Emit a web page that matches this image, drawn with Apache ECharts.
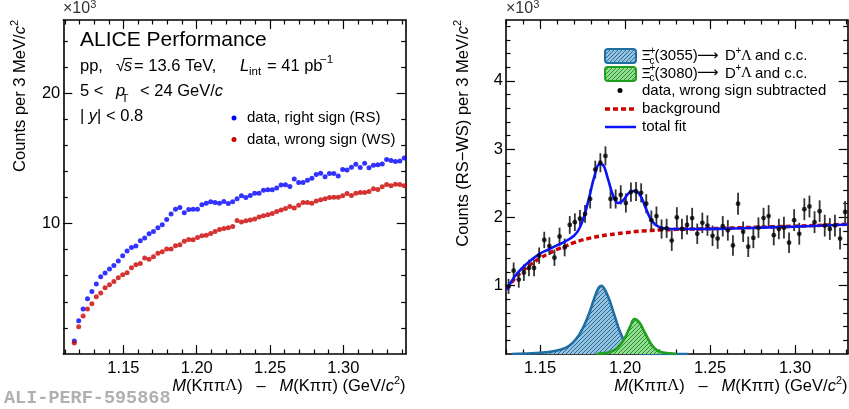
<!DOCTYPE html>
<html>
<head>
<meta charset="utf-8">
<script src="https://cdn.jsdelivr.net/npm/echarts@6/dist/echarts.min.js"></script>
<style>
  html, body { margin: 0; padding: 0; background: #fff; }
  #chart { width: 849px; height: 409px; }
</style>
</head>
<body>
<div id="chart"></div>
<script>
// ---- binning of the mass-difference axis (GeV/c^2), 3 MeV bins ----
const BIN_WIDTH = 0.003;
const FIRST_BIN_LEFT = 1.1165;
const FIRST_BIN_RIGHT = 1.1315;

// ---- left panel: candidates per bin (x10^3) ----
const rightSign = [
  1.00, 2.55, 3.44, 4.23, 4.80, 5.36, 5.92, 6.20, 6.51, 6.79,
  7.12, 7.53, 7.89, 8.17, 8.27, 8.68, 8.90, 9.21, 9.39, 9.67,
  9.90, 10.31, 10.73, 11.10, 11.23, 10.82, 11.08, 11.10, 11.10, 11.43,
  11.56, 11.66, 11.61, 11.56, 11.69, 11.53, 11.66, 11.89, 12.12, 11.99,
  12.15, 12.33, 12.33, 12.56, 12.58, 12.58, 12.73, 12.95, 12.97, 12.84,
  13.42, 13.14, 13.14, 13.32, 13.48, 13.76, 13.86, 13.58, 13.83, 13.83,
  13.65, 14.14, 14.11, 14.32, 14.55, 14.29, 14.62, 14.27, 14.47, 14.50,
  14.57, 14.91, 14.83, 14.76, 14.80, 15.03
];
const wrongSign = [
  0.84, 2.09, 2.91, 3.44, 3.85, 4.39, 4.67, 5.08, 5.31, 5.56,
  5.84, 6.07, 6.23, 6.61, 6.84, 6.94, 7.35, 7.27, 7.45, 7.73,
  7.84, 8.04, 8.04, 8.30, 8.38, 8.64, 8.78, 8.75, 8.92, 9.06,
  9.11, 9.24, 9.39, 9.55, 9.62, 9.67, 9.77, 10.23, 10.11, 10.21,
  10.28, 10.34, 10.51, 10.59, 10.67, 10.77, 10.93, 11.04, 11.16, 11.31,
  11.20, 11.41, 11.61, 11.61, 11.56, 11.72, 11.82, 11.89, 12.00, 12.02,
  12.02, 12.12, 12.30, 12.15, 12.33, 12.38, 12.38, 12.46, 12.66, 12.61,
  12.81, 12.99, 12.89, 13.02, 12.99, 12.89
];

// ---- right panel: RS - WS per bin (x10^3) and statistical uncertainty ----
const subtracted = [
  0.99, 1.22, 1.09, 1.19, 1.26, 1.26, 1.44, 1.67, 1.58, 1.41,
  1.72, 1.56, 1.89, 1.93, 1.98, 2.05, 2.27, 2.70, 2.80, 2.90,
  2.27, 2.27, 2.33, 2.21, 2.37, 2.38, 2.36, 2.20, 1.96, 2.02,
  1.83, 1.84, 1.66, 2.00, 1.83, 1.89, 1.99, 1.76, 1.92, 1.88,
  1.73, 1.69, 1.87, 1.81, 1.59, 2.20, 1.79, 1.57, 1.70, 1.85,
  1.99, 2.02, 1.74, 1.83, 1.85, 1.63, 1.96, 1.76, 2.12, 2.16,
  1.93, 2.09, 1.88, 1.83, 1.88, 1.69, 2.08
];
const subtractedErr = [
  0.11, 0.12, 0.12, 0.12, 0.12, 0.12, 0.12, 0.12, 0.13, 0.12,
  0.13, 0.13, 0.13, 0.13, 0.13, 0.13, 0.14, 0.13, 0.14, 0.14,
  0.14, 0.14, 0.14, 0.14, 0.14, 0.14, 0.14, 0.14, 0.14, 0.14,
  0.14, 0.14, 0.15, 0.15, 0.15, 0.14, 0.15, 0.15, 0.15, 0.15,
  0.15, 0.15, 0.15, 0.15, 0.15, 0.16, 0.15, 0.15, 0.15, 0.15,
  0.15, 0.16, 0.15, 0.15, 0.16, 0.15, 0.16, 0.16, 0.16, 0.16,
  0.16, 0.16, 0.16, 0.16, 0.16, 0.16, 0.16
];

// ---- fit components, sampled along the mass axis ----
const bkgMass   = [1.1305, 1.135, 1.140, 1.145, 1.150, 1.155, 1.160, 1.165, 1.170, 1.175, 1.180, 1.185, 1.190, 1.195, 1.200, 1.210, 1.220, 1.230, 1.250, 1.270, 1.290, 1.310, 1.331];
const bkgCounts = [0.95, 1.10, 1.22, 1.32, 1.40, 1.47, 1.53, 1.58, 1.63, 1.67, 1.70, 1.725, 1.745, 1.76, 1.775, 1.80, 1.815, 1.825, 1.835, 1.85, 1.865, 1.88, 1.90];

const fitMass   = [1.1305, 1.135, 1.140, 1.145, 1.150, 1.155, 1.160, 1.165, 1.170, 1.173, 1.176, 1.179, 1.182, 1.185, 1.187, 1.190, 1.193, 1.196, 1.199, 1.202, 1.2055, 1.209, 1.212, 1.215, 1.218, 1.222, 1.227, 1.240, 1.260, 1.280, 1.300, 1.331];
const fitCounts = [0.94, 1.13, 1.27, 1.38, 1.47, 1.53, 1.59, 1.65, 1.73, 1.83, 2.02, 2.30, 2.60, 2.78, 2.77, 2.56, 2.32, 2.21, 2.25, 2.35, 2.39, 2.32, 2.15, 1.98, 1.89, 1.845, 1.83, 1.83, 1.835, 1.85, 1.865, 1.895];

const xi3055Mass   = [1.1335, 1.145, 1.155, 1.160, 1.165, 1.169, 1.173, 1.176, 1.179, 1.182, 1.1845, 1.186, 1.188, 1.191, 1.194, 1.197, 1.200, 1.203, 1.207, 1.215, 1.225, 1.237];
const xi3055Counts = [0.0, 0.01, 0.03, 0.05, 0.09, 0.16, 0.28, 0.42, 0.60, 0.82, 0.97, 1.00, 0.95, 0.78, 0.55, 0.33, 0.17, 0.07, 0.02, 0.005, 0.0, 0.0];

const xi3080Mass   = [1.1832, 1.190, 1.194, 1.197, 1.200, 1.203, 1.2055, 1.2085, 1.2115, 1.2145, 1.2175, 1.221, 1.226, 1.2301];
const xi3080Counts = [0.0, 0.02, 0.06, 0.13, 0.24, 0.40, 0.51, 0.46, 0.32, 0.18, 0.08, 0.03, 0.01, 0.0];

// ---- axis ranges and tick positions ----
const xRangeLeft = [1.109, 1.3425];
const xRangeRight = [1.13, 1.331];
const yRangeLeft = [0, 25.6];
const yRangeRight = [0, 4.89];
const xMajorTicks = [1.15, 1.20, 1.25, 1.30];
const yMajorLeft = [10, 20];
const yMajorRight = [1, 2, 3, 4];

function steps(from, to, step, skip) {
  const out = [];
  const n = Math.round((to - from) / step);
  for (let k = 0; k <= n; k++) {
    const v = +(from + k * step).toFixed(4);
    if (!skip.some(s => Math.abs(s - v) < 1e-6)) out.push(v);
  }
  return out;
}
const xMinorLeft = steps(1.11, 1.34, 0.01, xMajorTicks);
const xMinorRight = steps(1.13, 1.33, 0.01, xMajorTicks);
const yMinorLeft = steps(2, 24, 2, yMajorLeft);
const yMinorRight = steps(0.2, 4.8, 0.2, yMajorRight);

const FONT = 'Liberation Sans, Arial, Helvetica, sans-serif';
const SERIF = 'Liberation Serif, Times New Roman, serif';

// diagonal hatch used for the signal components
function hatch(bg, fg) {
  const c = document.createElement('canvas');
  c.width = 4; c.height = 4;
  const g = c.getContext('2d');
  g.fillStyle = bg; g.fillRect(0, 0, 4, 4);
  g.strokeStyle = fg; g.lineWidth = 1;
  g.beginPath(); g.moveTo(-1, 5); g.lineTo(5, -1); g.stroke();
  return { image: c, repeat: 'repeat' };
}
const blueHatch = hatch('#96c2de', '#256ea2');
const greenHatch = hatch('#98da98', '#1c981c');
const XI_BLUE = '#1f6ea3';
const XI_GREEN = '#1ea01e';

// four axes per side: major ticks (+line, labels) and minor ticks, bottom/top or left/right
function makeAxes(kind, grid, range, majors, minors, fmt) {
  const isX = kind === 'x';
  const base = {
    type: 'value', gridIndex: grid, min: range[0], max: range[1],
    splitLine: { show: false }, axisLabel: { show: false },
    axisLine: { show: false, onZero: false }, axisTick: { show: false }
  };
  const tick = (vals, len) => ({ show: true, inside: true, length: len, customValues: vals,
    lineStyle: { color: '#000', width: 1.2 } });
  const line = { show: true, onZero: false, lineStyle: { color: '#000', width: 1.6 } };
  const p1 = isX ? 'bottom' : 'left', p2 = isX ? 'top' : 'right';
  return [
    Object.assign({}, base, { position: p1, axisLine: line, axisTick: tick(majors, 9),
      axisLabel: { show: true, customValues: majors, formatter: fmt, fontSize: 16.5,
        fontFamily: FONT, color: '#000', margin: isX ? 6 : 3 } }),
    Object.assign({}, base, { position: p1, axisTick: tick(minors, 4.5) }),
    Object.assign({}, base, { position: p2, axisLine: line, axisTick: tick(majors, 9) }),
    Object.assign({}, base, { position: p2, axisTick: tick(minors, 4.5) })
  ];
}
const fmtMass = v => v.toFixed(2);
const fmtInt = v => String(Math.round(v));

// text helper with italic / superscript / serif tokens
function T(x, y, text, o) {
  o = o || {};
  const fs = o.size || 16.5;
  const base = { fontSize: fs, fontFamily: o.family || FONT, fill: o.color || '#000',
    fontWeight: o.weight || 'normal' };
  const small = Math.round(fs * 0.66);
  return {
    type: 'text', x: x, y: y, rotation: o.rot || 0, silent: true, z: 100,
    style: Object.assign({}, base, {
      text: text, fontStyle: o.italic ? 'italic' : 'normal',
      align: o.align || 'left', verticalAlign: 'middle', lineHeight: fs * 1.25,
      rich: {
        i: Object.assign({}, base, { fontStyle: 'italic', lineHeight: fs * 1.25 }),
        s: Object.assign({}, base, { fontSize: small, verticalAlign: 'top', lineHeight: fs * 1.25 }),
        g: Object.assign({}, base, { fontFamily: SERIF, lineHeight: fs * 1.25 })
      }
    })
  };
}
function dot(x, y, color) {
  return { type: 'circle', shape: { cx: x, cy: y, r: 2.5 }, style: { fill: color }, silent: true, z: 100 };
}
function seg(x1, x2, y, color, width, dash) {
  return { type: 'line', shape: { x1: x1, y1: y, x2: x2, y2: y }, silent: true, z: 100,
    style: { stroke: color, lineWidth: width, lineDash: dash || null } };
}
// decay channel label: Xi_c^+(mass) -> D^+ Lambda and c.c.
function channel(y, massText) {
  return [
    T(641.5, y, 'Ξ', { size: 15 }),
    T(649.5, y - 5, '+', { size: 10 }),
    T(649.5, y + 5, 'c', { size: 10 }),
    T(654.5, y, massText, { size: 15 }),
    T(697, y, '⟶', { size: 15, family: 'DejaVu Sans, sans-serif' }),
    T(725, y, 'D', { size: 15 }),
    T(735.5, y - 5, '+', { size: 10 }),
    T(741, y, 'Λ', { size: 15, family: SERIF }),
    T(755, y, 'and c.c.', { size: 15 })
  ];
}

const pairs = (xs, ys) => xs.map((x, i) => [x, ys[i]]);
const binCenter = (first, i) => +(first + BIN_WIDTH * i).toFixed(4);

const leftX = makeAxes('x', 0, xRangeLeft, xMajorTicks, xMinorLeft, fmtMass);
const rightX = makeAxes('x', 1, xRangeRight, xMajorTicks, xMinorRight, fmtMass);
const leftY = makeAxes('y', 0, yRangeLeft, yMajorLeft, yMinorLeft, fmtInt);
const rightY = makeAxes('y', 1, yRangeRight, yMajorRight, yMinorRight, fmtInt);

const xTitle = '{i|M}(Kππ{g|Λ})   –   {i|M}(Kππ) (GeV/{i|c}{s|2})';

const graphics = [
  // left panel annotations
  T(63, 9, '×10{s|3}', { size: 16, color: '#333' }),
  T(80, 40, 'ALICE Performance', { size: 21 }),
  T(80, 66.5, 'pp,'),
  T(116, 66.5, '√'),
  T(124, 66.5, 's', { italic: true }),
  seg(123.5, 132, 58.5, '#000', 1.1),
  T(134, 66.5, '= 13.6 TeV,'),
  T(240, 66.5, 'L', { italic: true }),
  T(249, 72, 'int', { size: 11.5 }),
  T(267, 66.5, '= 41 pb'),
  T(320, 60, '−1', { size: 11.5 }),
  T(80, 91, '5 <'),
  T(116, 91, 'p', { italic: true }),
  T(121.5, 99, 'T', { size: 11.5 }),
  T(140, 91, '< 24 GeV/{i|c}'),
  T(80, 116, '| {i|y}| < 0.8'),
  dot(234, 118, '#0000ff'),
  T(247, 118, 'data, right sign (RS)', { size: 15 }),
  dot(234, 139.5, '#cc0000'),
  T(247, 139.5, 'data, wrong sign (WS)', { size: 15 }),
  // axis titles
  T(20, 20, 'Counts per 3 MeV/{i|c}{s|2}', { rot: Math.PI / 2, align: 'right' }),
  T(463, 20, 'Counts (RS−WS) per 3 MeV/{i|c}{s|2}', { rot: Math.PI / 2, align: 'right' }),
  T(405.5, 386, xTitle, { align: 'right' }),
  T(847.5, 386, xTitle, { align: 'right' }),
  // right panel annotations
  T(506, 9, '×10{s|3}', { size: 16, color: '#333' }),
  { type: 'rect', shape: { x: 605, y: 49, width: 31, height: 14, r: 3 }, silent: true, z: 100,
    style: { fill: blueHatch, stroke: XI_BLUE, lineWidth: 2 } },
  { type: 'rect', shape: { x: 605, y: 67, width: 31, height: 14, r: 3 }, silent: true, z: 100,
    style: { fill: greenHatch, stroke: XI_GREEN, lineWidth: 2 } }
].concat(channel(56, '(3055)'), channel(73.5, '(3080)'), [
  dot(620, 90.5, '#000'),
  T(642, 90.5, 'data, wrong sign subtracted', { size: 15 }),
  seg(605, 636, 109, '#cc0000', 3.5, [5, 3]),
  T(642, 109, 'background', { size: 15 }),
  seg(605, 636, 127, '#0a14f5', 2.5),
  T(642, 127, 'total fit', { size: 15 }),
  // figure identifier
  T(4, 398, 'ALI-PERF-595868', { size: 18.5, family: 'Liberation Mono, Courier New, monospace',
    weight: 'bold', color: '#b0b0b0' })
]);

const chart = echarts.init(document.getElementById('chart'), null, { renderer: 'canvas' });
chart.setOption({
  animation: false,
  backgroundColor: '#fff',
  grid: [
    { left: 63.3, top: 20, width: 342.4, height: 334 },
    { left: 506, top: 20, width: 341.7, height: 334 }
  ],
  xAxis: leftX.concat(rightX),
  yAxis: leftY.concat(rightY),
  graphic: { elements: graphics },
  series: [
    { type: 'scatter', name: 'RS', xAxisIndex: 0, yAxisIndex: 0, symbolSize: 5,
      itemStyle: { color: '#0000ff' }, z: 3,
      data: rightSign.map((v, i) => [binCenter(FIRST_BIN_LEFT, i), v]) },
    { type: 'scatter', name: 'WS', xAxisIndex: 0, yAxisIndex: 0, symbolSize: 5,
      itemStyle: { color: '#cc0000' }, z: 3,
      data: wrongSign.map((v, i) => [binCenter(FIRST_BIN_LEFT, i), v]) },

    { type: 'line', name: 'Xi3055', xAxisIndex: 4, yAxisIndex: 4, smooth: 0.35, showSymbol: false,
      lineStyle: { color: XI_BLUE, width: 2.6 }, areaStyle: { color: blueHatch, opacity: 1, origin: 'start' },
      z: 1, data: pairs(xi3055Mass, xi3055Counts) },
    { type: 'line', name: 'Xi3080', xAxisIndex: 4, yAxisIndex: 4, smooth: 0.35, showSymbol: false,
      lineStyle: { color: XI_GREEN, width: 2.6 }, areaStyle: { color: greenHatch, opacity: 1, origin: 'start' },
      z: 2, data: pairs(xi3080Mass, xi3080Counts) },
    { type: 'line', name: 'background', xAxisIndex: 4, yAxisIndex: 4, smooth: 0.4, showSymbol: false,
      lineStyle: { color: '#cc0000', width: 3.5, type: [5, 3] }, z: 3,
      data: pairs(bkgMass, bkgCounts) },
    { type: 'custom', name: 'errors', xAxisIndex: 4, yAxisIndex: 4, z: 4,
      data: subtracted.map((v, i) => [binCenter(FIRST_BIN_RIGHT, i), v - subtractedErr[i], v + subtractedErr[i]]),
      encode: { x: 0, y: [1, 2] },
      renderItem: function (params, api) {
        const lo = api.coord([api.value(0), api.value(1)]);
        const hi = api.coord([api.value(0), api.value(2)]);
        return { type: 'line', shape: { x1: lo[0], y1: lo[1], x2: hi[0], y2: hi[1] },
          style: { stroke: '#333', lineWidth: 1.8 } };
      } },
    { type: 'line', name: 'total fit', xAxisIndex: 4, yAxisIndex: 4, smooth: 0.4, showSymbol: false,
      lineStyle: { color: '#0a14f5', width: 2.6 }, z: 5,
      data: pairs(fitMass, fitCounts) },
    { type: 'scatter', name: 'RS-WS', xAxisIndex: 4, yAxisIndex: 4, symbolSize: 4.8,
      itemStyle: { color: '#000' }, z: 6,
      data: subtracted.map((v, i) => [binCenter(FIRST_BIN_RIGHT, i), v]) }
  ]
});
</script>
</body>
</html>
